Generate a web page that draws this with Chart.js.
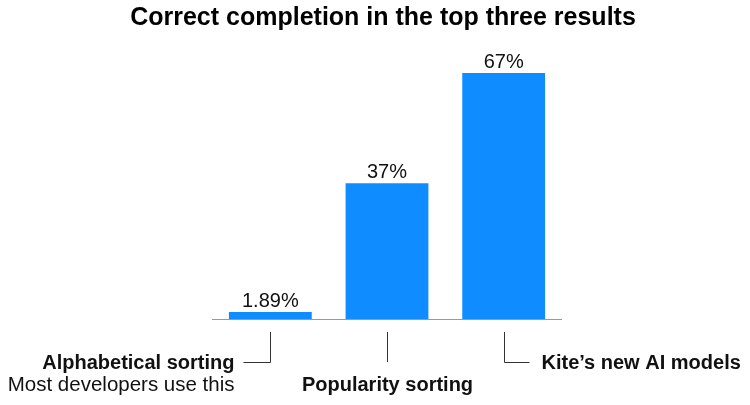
<!DOCTYPE html>
<html>
<head>
<meta charset="utf-8">
<script src="https://cdn.jsdelivr.net/npm/chart.js@4.4.1/dist/chart.umd.min.js"></script>
<style>
  html, body { margin: 0; padding: 0; background: #fff; }
  #wrap { width: 750px; height: 405px; }
</style>
</head>
<body>
<div id="wrap"><canvas id="chart"></canvas></div>
<script>
// Data
const categories = ['Alphabetical sorting', 'Popularity sorting', "Kite\u2019s new AI models"];
const values = [1.89, 37, 67];
const valueLabels = ['1.89%', '37%', '67%'];
const subLabels = ['Most developers use this', '', ''];
const titleText = 'Correct completion in the top three results';

const FONT = '"Liberation Sans", Arial, Helvetica, sans-serif';
const barColor = '#0f8cff';

// Draws title, baseline, value labels and bracket annotations
const decorations = {
    id: 'decorations',
    afterDatasetsDraw(chart) {
        const ctx = chart.ctx;
        const area = chart.chartArea;
        const x = chart.scales.x;
        const y = chart.scales.y;
        const base = y.getPixelForValue(0);

        ctx.save();

        // title
        ctx.fillStyle = '#000';
        ctx.font = 'bold 25px ' + FONT;
        ctx.textAlign = 'center';
        ctx.textBaseline = 'alphabetic';
        ctx.fillText(titleText, 383, 25);

        // baseline
        ctx.strokeStyle = '#9a9a9a';
        ctx.lineWidth = 1;
        ctx.beginPath();
        ctx.moveTo(area.left, base + 0.5);
        ctx.lineTo(area.right, base + 0.5);
        ctx.stroke();

        // value labels
        ctx.fillStyle = '#111';
        ctx.font = '20px ' + FONT;
        values.forEach((v, i) => {
            ctx.fillText(valueLabels[i], x.getPixelForValue(i), y.getPixelForValue(v) - 5);
        });

        // brackets
        const top = base + 13, bot = base + 43;
        ctx.strokeStyle = '#333';
        ctx.lineWidth = 1;
        const c0 = Math.round(x.getPixelForValue(0)) + 0.5;
        const c1 = Math.round(x.getPixelForValue(1)) + 0.5;
        const c2 = Math.round(x.getPixelForValue(2)) + 0.5;
        ctx.beginPath();
        ctx.moveTo(c0, top); ctx.lineTo(c0, bot + 0.5); ctx.lineTo(c0 - 27, bot + 0.5);
        ctx.moveTo(c1, top); ctx.lineTo(c1, bot);
        ctx.moveTo(c2, top); ctx.lineTo(c2, bot + 0.5); ctx.lineTo(c2 + 25, bot + 0.5);
        ctx.stroke();

        // annotation text
        ctx.fillStyle = '#111';
        ctx.font = 'bold 20px ' + FONT;
        ctx.textAlign = 'right';
        ctx.fillText(categories[0], c0 - 36, 369);
        ctx.font = '20.5px ' + FONT;
        ctx.fillText(subLabels[0], c0 - 36, 391);

        ctx.font = 'bold 20px ' + FONT;
        ctx.textAlign = 'center';
        ctx.fillText(categories[1], c1, 391);

        ctx.textAlign = 'left';
        ctx.fillText(categories[2], c2 + 37, 369);

        ctx.restore();
    }
};

new Chart(document.getElementById('chart'), {
    type: 'bar',
    data: {
        labels: categories,
        datasets: [{
            data: values,
            backgroundColor: barColor,
            borderWidth: 0,
            categoryPercentage: 1,
            barPercentage: 0.71
        }]
    },
    options: {
        responsive: true,
        maintainAspectRatio: false,
        animation: false,
        layout: {
            padding: { left: 212, right: 188, top: 62, bottom: 86 }
        },
        plugins: {
            legend: { display: false },
            tooltip: { enabled: false }
        },
        scales: {
            x: { display: false },
            y: { display: false, min: 0, max: 70 }
        }
    },
    plugins: [decorations]
});
</script>
</body>
</html>
